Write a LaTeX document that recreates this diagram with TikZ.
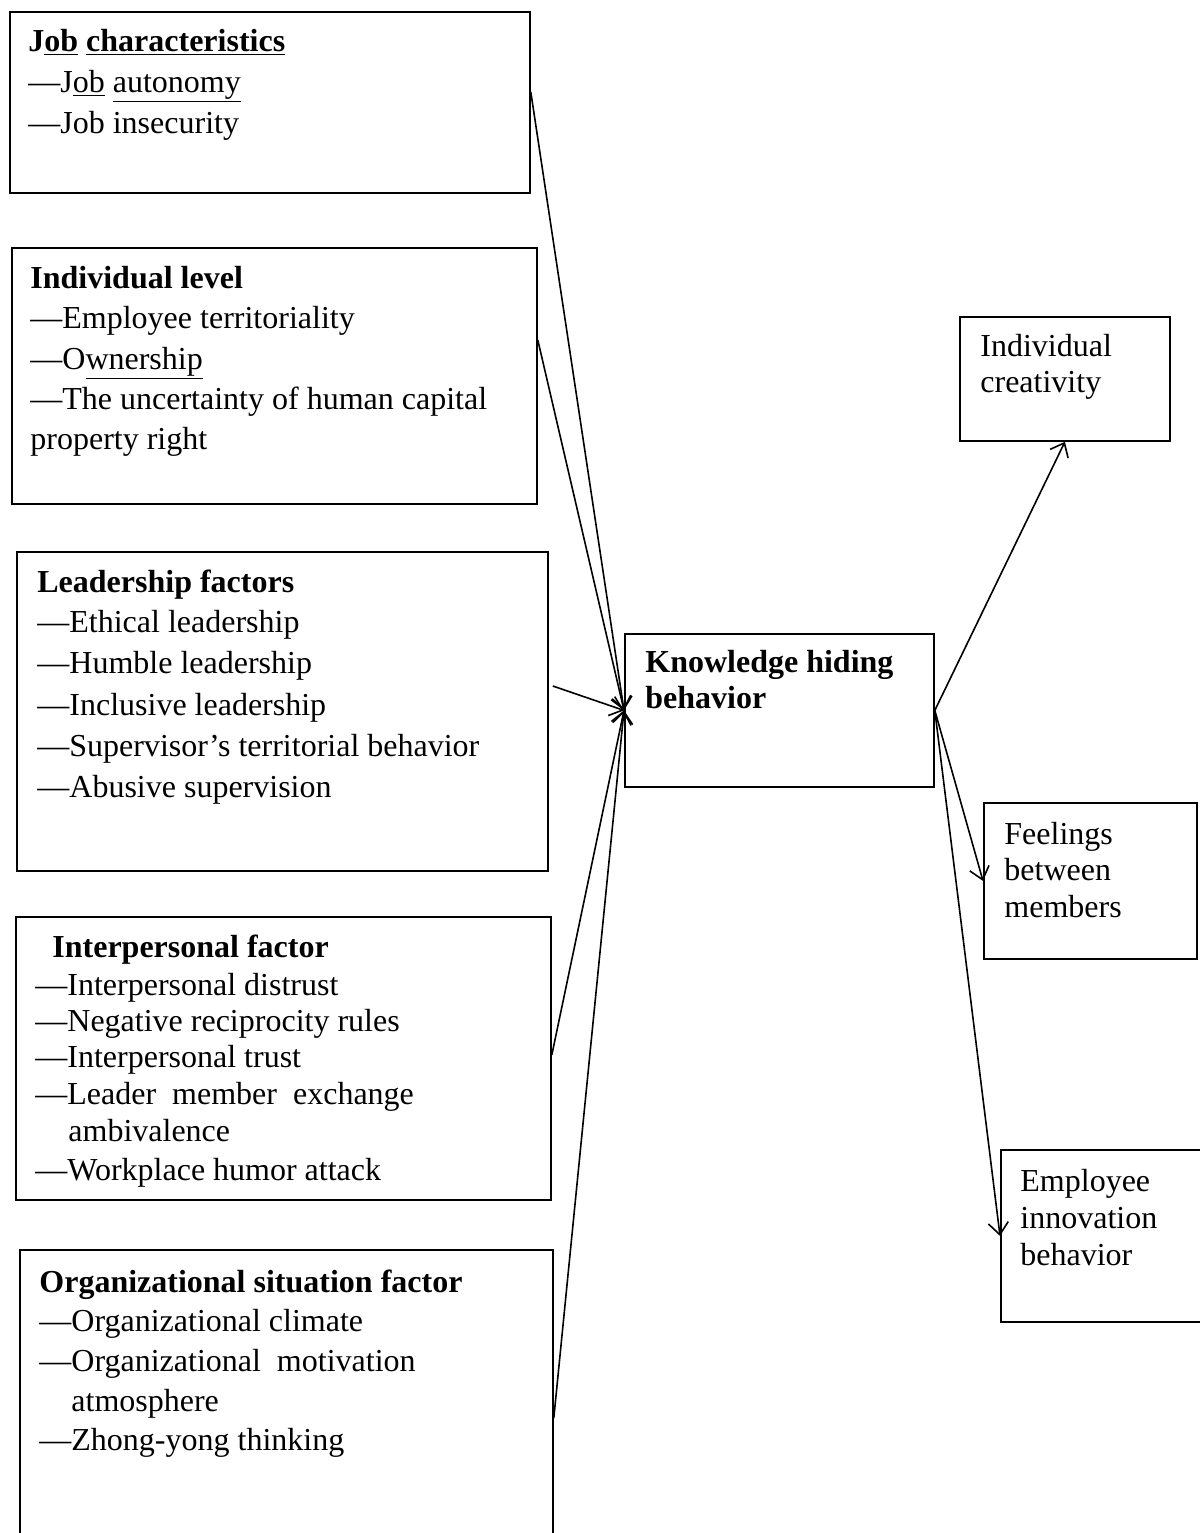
\documentclass[tikz,border=0pt]{standalone}
\usepackage{fontspec}
\setmainfont{Liberation Serif}
\usetikzlibrary{arrows.meta}

\tikzset{
  box/.style={draw, line width=0.9pt, anchor=north west, inner sep=0pt},
  itemtxt/.style={anchor=base west, inner sep=0pt, font=\fontsize{16}{19}\selectfont},
  headtxt/.style={itemtxt, font=\fontsize{16}{19}\selectfont\bfseries},
  arrowln/.style={line width=0.8pt, -{Straight Barb[length=6pt,width=10pt]}},
}

\begin{document}
\begin{tikzpicture}[x=0.5pt, y=-0.5pt]
  \useasboundingbox (0,0) rectangle (1200,1533);
  \clip (0,0) rectangle (1200,1533);
  % antecedents
  \node[box, minimum width=260pt, minimum height=90.5pt] (job) at (9,11) {};
  \node[headtxt] (job-h) at (28,51) {J\underline{ob} \underline{characteristics}};
  \node[itemtxt] (job-1) at (28,92) {\textemdash J\underline{ob} \underline{autonomy}};
  \node[itemtxt] (job-2) at (28,133) {\textemdash Job insecurity};

  \node[box, minimum width=262.5pt, minimum height=128pt] (ind) at (11,247) {};
  \node[headtxt] (ind-h) at (30,288) {Individual level};
  \node[itemtxt] (ind-1) at (30,328) {\textemdash Employee territoriality};
  \node[itemtxt] (ind-2) at (30,369) {\textemdash O\underline{wnership}};
  \node[itemtxt] (ind-3) at (30,409) {\textemdash The uncertainty of human capital};
  \node[itemtxt] (ind-4) at (30,449) {property right};

  \node[box, minimum width=265.5pt, minimum height=159.5pt] (lead) at (16,551) {};
  \node[headtxt] (lead-h) at (37,592) {Leadership factors};
  \node[itemtxt] (lead-1) at (37,632) {\textemdash Ethical leadership};
  \node[itemtxt] (lead-2) at (37,673) {\textemdash Humble leadership};
  \node[itemtxt] (lead-3) at (37,715) {\textemdash Inclusive leadership};
  \node[itemtxt] (lead-4) at (37,756) {\textemdash Supervisor’s territorial behavior};
  \node[itemtxt] (lead-5) at (37,797) {\textemdash Abusive supervision};

  \node[box, minimum width=267.5pt, minimum height=141.5pt] (inter) at (15,916) {};
  \node[headtxt] (inter-h) at (52,957) {Interpersonal factor};
  \node[itemtxt] (inter-1) at (35,995) {\textemdash Interpersonal distrust};
  \node[itemtxt] (inter-2) at (35,1031) {\textemdash Negative reciprocity rules};
  \node[itemtxt] (inter-3) at (35,1067) {\textemdash Interpersonal trust};
  \node[itemtxt] (inter-4) at (35,1104) {\textemdash Leader\hspace{4pt} member\hspace{4pt} exchange};
  \node[itemtxt] (inter-5) at (68,1141) {ambivalence};
  \node[itemtxt] (inter-6) at (35,1180) {\textemdash Workplace humor attack};

  \node[box, minimum width=266.5pt, minimum height=160pt] (org) at (19,1249) {};
  \node[headtxt] (org-h) at (39,1292) {Organizational situation factor};
  \node[itemtxt] (org-1) at (39,1331) {\textemdash Organizational climate};
  \node[itemtxt] (org-2) at (39,1371) {\textemdash Organizational\hspace{4pt} motivation};
  \node[itemtxt] (org-3) at (71,1411) {atmosphere};
  \node[itemtxt] (org-4) at (39,1450) {\textemdash Zhong-yong thinking};

  % central behaviour
  \node[box, minimum width=154.5pt, minimum height=76.5pt] (khb) at (624,633) {};
  \node[headtxt] (khb-1) at (645,672) {Knowledge hiding};
  \node[headtxt] (khb-2) at (645,708) {behavior};

  % outcomes
  \node[box, minimum width=105pt, minimum height=62pt] (crea) at (959,316) {};
  \node[itemtxt] (crea-1) at (980,356) {Individual};
  \node[itemtxt] (crea-2) at (980,392) {creativity};

  \node[box, minimum width=106.5pt, minimum height=78pt] (feel) at (983,802) {};
  \node[itemtxt] (feel-1) at (1004,844) {Feelings};
  \node[itemtxt] (feel-2) at (1004,880) {between};
  \node[itemtxt] (feel-3) at (1004,917) {members};

  \node[box, minimum width=105pt, minimum height=86pt] (emp) at (1000,1149) {};
  \node[itemtxt] (emp-1) at (1020,1191) {Employee};
  \node[itemtxt] (emp-2) at (1020,1228) {innovation};
  \node[itemtxt] (emp-3) at (1020,1265) {behavior};

  % arrows
  \draw[arrowln] (job.east |- 0,92) -- (khb.west);
  \draw[arrowln] (ind.east |- 0,340) -- (khb.west);
  \draw[arrowln] ([xshift=2pt]lead.east |- 0,686) -- (khb.west);
  \draw[arrowln] (inter.east |- 0,1055) -- (khb.west);
  \draw[arrowln] (org.east |- 0,1418) -- (khb.west);
  \draw[arrowln] (khb.east) -- (crea.south);
  \draw[arrowln] (khb.east) -- (feel.west);
  \draw[arrowln] (khb.east) -- (emp.west);
\end{tikzpicture}
\end{document}
